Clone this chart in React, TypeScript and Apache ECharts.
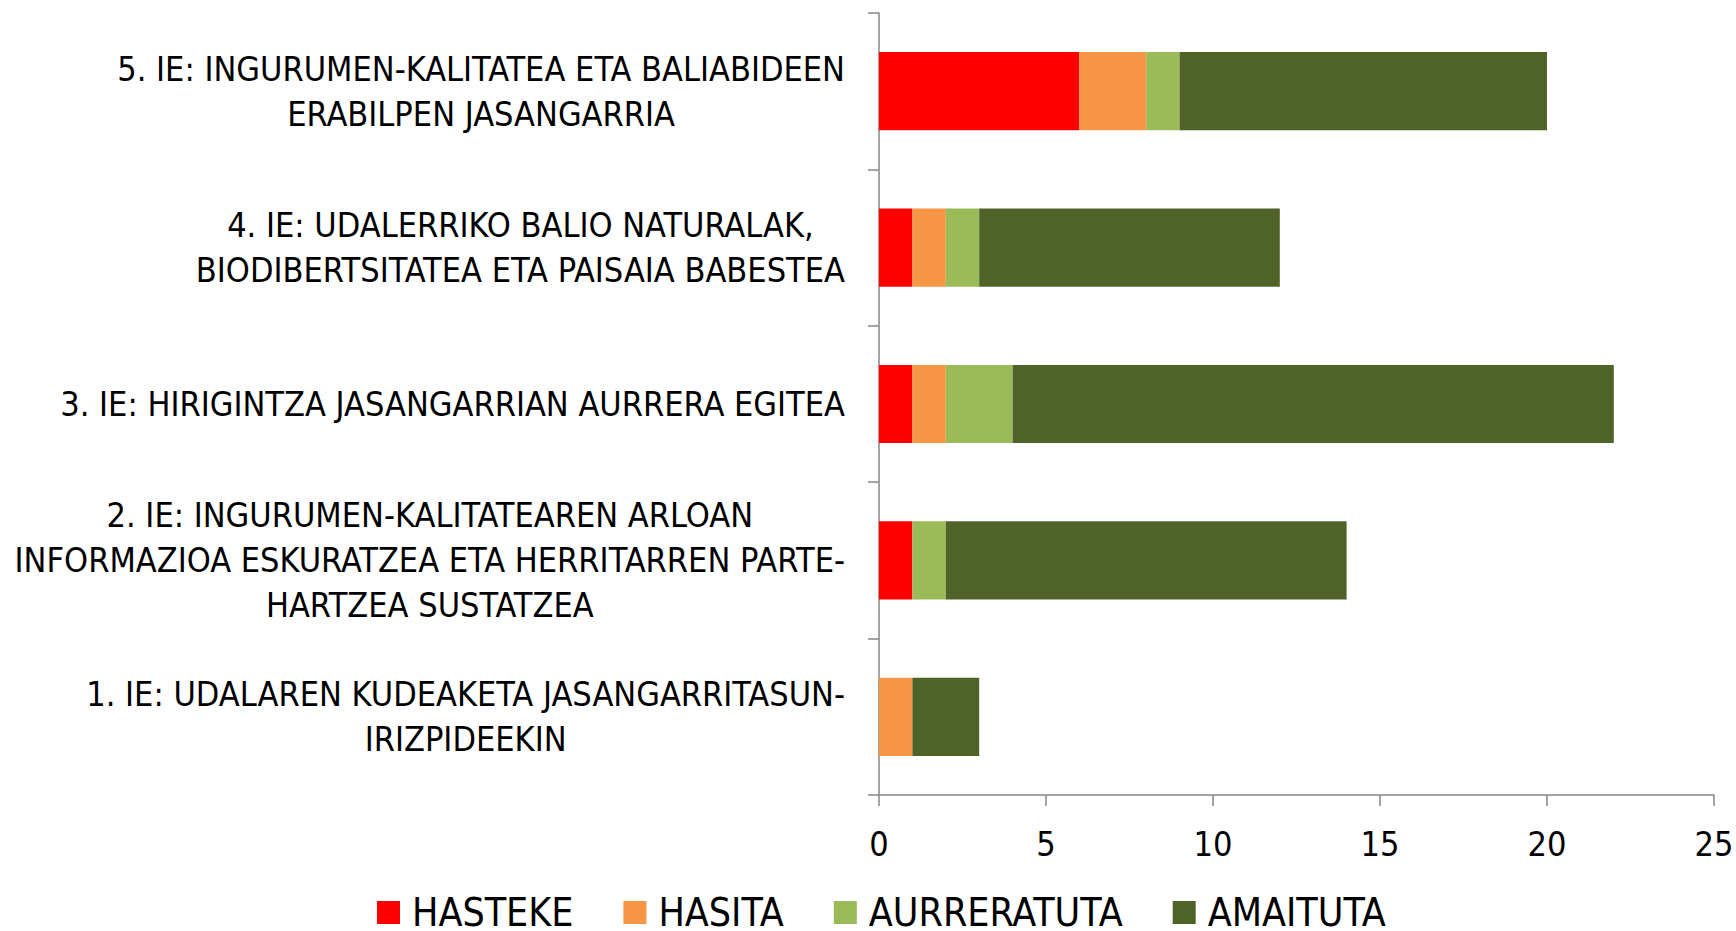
import React, { useEffect, useRef } from "react";
import * as echarts from "echarts";

const categories = [
  "1. IE: UDALAREN KUDEAKETA JASANGARRITASUN-\nIRIZPIDEEKIN",
  "2. IE: INGURUMEN-KALITATEAREN ARLOAN\nINFORMAZIOA ESKURATZEA ETA HERRITARREN PARTE-\nHARTZEA SUSTATZEA",
  "3. IE: HIRIGINTZA JASANGARRIAN AURRERA EGITEA",
  "4. IE: UDALERRIKO BALIO NATURALAK,\nBIODIBERTSITATEA ETA PAISAIA BABESTEA",
  "5. IE: INGURUMEN-KALITATEA ETA BALIABIDEEN\nERABILPEN JASANGARRIA",
];

const seriesNames = ["HASTEKE", "HASITA", "AURRERATUTA", "AMAITUTA"];
const hasteke = [0, 1, 1, 1, 6];
const hasita = [1, 0, 1, 1, 2];
const aurreratuta = [0, 1, 2, 1, 1];
const amaituta = [2, 12, 18, 9, 11];
const seriesColors = ["#FF0000", "#F79646", "#9BBB59", "#4F6228"];

const xMin = 0;
const xMax = 25;
const xInterval = 5;

const FONT = "'DejaVu Sans Condensed', 'DejaVu Sans', sans-serif";
const FS = 34;
const LEGEND_FS = 39;

export default function App() {
  const ref = useRef<HTMLDivElement>(null);
  useEffect(() => {
    if (!ref.current) return;
    const chart = echarts.init(ref.current, null, { renderer: "svg" });
    const values = [hasteke, hasita, aurreratuta, amaituta];
    chart.setOption({
      animation: false,
      backgroundColor: "#ffffff",
      textStyle: { fontFamily: FONT },
      grid: {
        left: 879,
        right: 22,
        top: 13,
        bottom: 136,
        containLabel: false,
        outerBoundsMode: "none",
      },
      legend: {
        data: seriesNames,
        left: 377,
        top: 893,
        padding: 0,
        icon: "rect",
        itemWidth: 23,
        itemHeight: 23,
        itemGap: 50,
        textStyle: {
          fontFamily: FONT,
          fontSize: LEGEND_FS,
          color: "#000",
          lineHeight: 30,
          padding: [0, 0, 0, 7],
        },
      },
      xAxis: {
        type: "value",
        min: xMin,
        max: xMax,
        interval: xInterval,
        splitLine: { show: false },
        axisLine: { show: true, lineStyle: { color: "#868686", width: 1.5 } },
        axisTick: { show: true, length: 11, lineStyle: { color: "#868686", width: 1.5 } },
        axisLabel: { fontFamily: FONT, fontSize: FS, color: "#000", margin: 32 },
      },
      yAxis: {
        type: "category",
        data: categories,
        axisLine: { show: true, lineStyle: { color: "#868686", width: 1.5 } },
        axisTick: { show: true, length: 11, alignWithLabel: false, lineStyle: { color: "#868686", width: 1.5 } },
        axisLabel: {
          margin: 34,
          align: "right",
          color: "#000",
          formatter: (v: string) => v.split("\n").map((l) => `{c|${l}}`).join("\n"),
          rich: {
            c: { align: "center", fontFamily: FONT, fontSize: FS, color: "#000", lineHeight: 45 },
          },
        },
      },
      series: seriesNames.map((name, i) => ({
        name,
        type: "bar",
        stack: "total",
        barWidth: "50%",
        data: values[i],
        itemStyle: { color: seriesColors[i] },
      })),
    });
    return () => chart.dispose();
  }, []);
  return (
    <div
      ref={ref}
      style={{ position: "absolute", left: 0, top: 0, width: 1736, height: 931 }}
    />
  );
}
